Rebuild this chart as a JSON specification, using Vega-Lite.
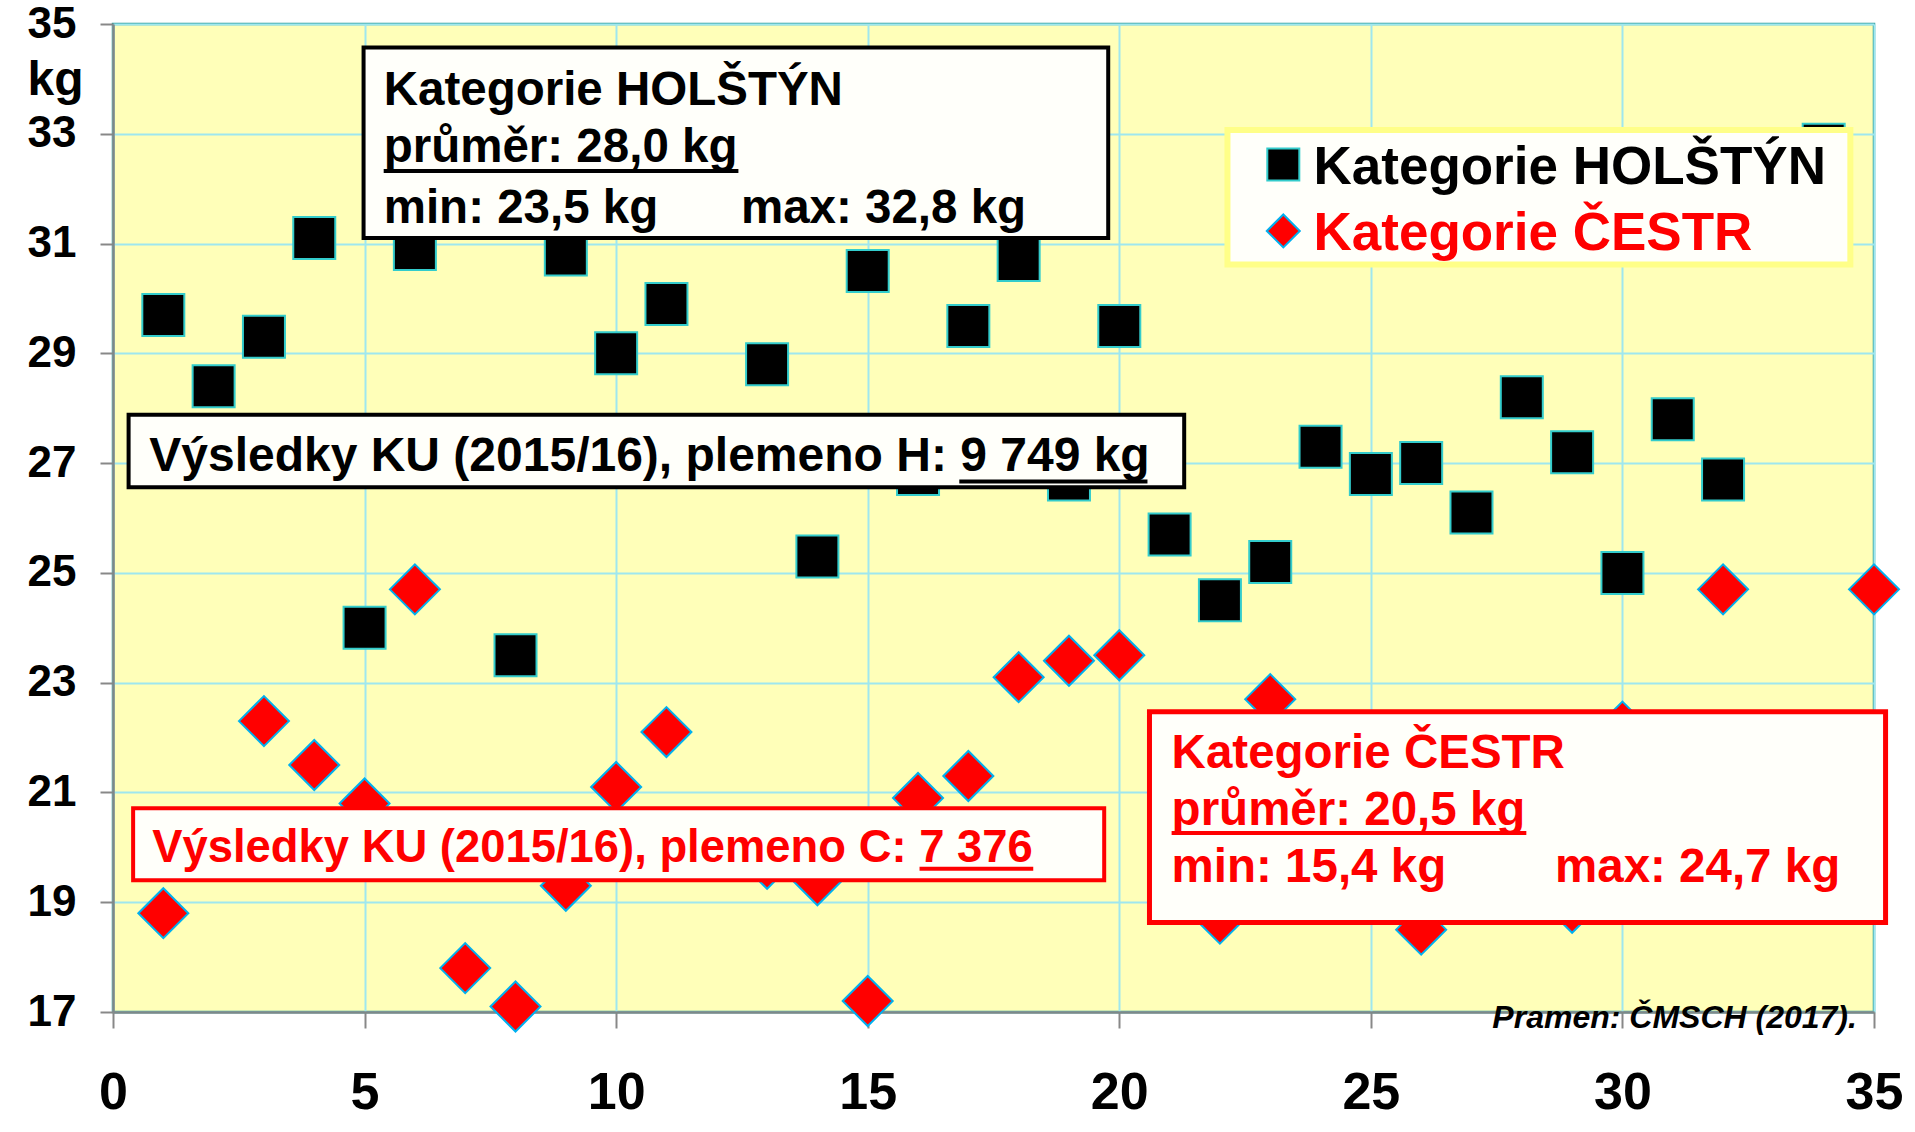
{
  "$schema": "https://vega.github.io/schema/vega-lite/v6.json",
  "width": 1761,
  "height": 988,
  "autosize": {"type": "none"},
  "padding": {"left": 113, "top": 24, "right": 41, "bottom": 120},
  "background": "#FFFFFF",
  "data": {"values": [{}]},
  "config": {
    "view": {"fill": "#FFFFB9", "stroke": "#2E9C9C", "strokeWidth": 2.5},
    "font": "Liberation Sans",
    "text": {"font": "Liberation Sans", "fontWeight": "bold", "align": "left", "baseline": "alphabetic"}
  },
  "datasets": {
    "holstyn": [
      {"n": 1, "kg": 29.7}, {"n": 2, "kg": 28.4}, {"n": 3, "kg": 29.3}, {"n": 4, "kg": 31.1},
      {"n": 5, "kg": 24.0}, {"n": 6, "kg": 30.9}, {"n": 7, "kg": 32.0}, {"n": 8, "kg": 23.5},
      {"n": 9, "kg": 30.8}, {"n": 10, "kg": 29.0}, {"n": 11, "kg": 29.9}, {"n": 12, "kg": 27.5},
      {"n": 13, "kg": 28.8}, {"n": 14, "kg": 25.3}, {"n": 15, "kg": 30.5}, {"n": 16, "kg": 26.8},
      {"n": 17, "kg": 29.5}, {"n": 18, "kg": 30.7}, {"n": 19, "kg": 26.7}, {"n": 20, "kg": 29.5},
      {"n": 21, "kg": 25.7}, {"n": 22, "kg": 24.5}, {"n": 23, "kg": 25.2}, {"n": 24, "kg": 27.3},
      {"n": 25, "kg": 26.8}, {"n": 26, "kg": 27.0}, {"n": 27, "kg": 26.1}, {"n": 28, "kg": 28.2},
      {"n": 29, "kg": 27.2}, {"n": 30, "kg": 25.0}, {"n": 31, "kg": 27.8}, {"n": 32, "kg": 26.7},
      {"n": 33, "kg": 31.9}, {"n": 34, "kg": 32.8}
    ],
    "cestr": [
      {"n": 1, "kg": 18.8}, {"n": 2, "kg": 20.0}, {"n": 3, "kg": 22.3}, {"n": 4, "kg": 21.5},
      {"n": 5, "kg": 20.8}, {"n": 6, "kg": 24.7}, {"n": 7, "kg": 17.8}, {"n": 8, "kg": 17.1},
      {"n": 9, "kg": 19.3}, {"n": 10, "kg": 21.1}, {"n": 11, "kg": 22.1}, {"n": 12, "kg": 20.0},
      {"n": 13, "kg": 19.7}, {"n": 14, "kg": 19.4}, {"n": 15, "kg": 17.2}, {"n": 16, "kg": 20.9},
      {"n": 17, "kg": 21.3}, {"n": 18, "kg": 23.1}, {"n": 19, "kg": 23.4}, {"n": 20, "kg": 23.5},
      {"n": 22, "kg": 18.7}, {"n": 23, "kg": 22.7}, {"n": 24, "kg": 20.5},
      {"n": 25, "kg": 21.0}, {"n": 26, "kg": 18.5}, {"n": 27, "kg": 20.0}, {"n": 28, "kg": 21.5},
      {"n": 29, "kg": 18.9}, {"n": 30, "kg": 22.2}, {"n": 31, "kg": 20.3}, {"n": 32, "kg": 24.7},
      {"n": 33, "kg": 20.8}, {"n": 34, "kg": 19.9}, {"n": 35, "kg": 24.7}
    ]
  },
  "layer": [
    {
      "data": {"name": "holstyn"},
      "mark": {"type": "point", "shape": "square", "filled": true, "fill": "#000000", "stroke": "#33CCCC", "strokeWidth": 2, "size": 1764, "opacity": 1},
      "encoding": {
        "x": {"field": "n", "type": "quantitative",
          "scale": {"domain": [0, 35], "nice": false, "zero": false},
          "axis": {"title": null, "values": [0, 5, 10, 15, 20, 25, 30, 35], "labelFont": "Liberation Sans", "labelFontSize": 52, "labelFontWeight": "bold", "labelColor": "#000000", "labelPadding": 39, "labelFlush": false, "labelOverlap": false, "tickSize": 16, "tickColor": "#888888", "tickWidth": 2, "domainColor": "#7F8888", "domainWidth": 2.5, "grid": true, "gridColor": "#9FE7EF", "gridWidth": 2}},
        "y": {"field": "kg", "type": "quantitative",
          "scale": {"domain": [17, 35], "nice": false, "zero": false},
          "axis": {"title": null, "values": [17, 19, 21, 23, 25, 27, 29, 31, 33, 35], "labelFont": "Liberation Sans", "labelFontSize": 44, "labelFontWeight": "bold", "labelColor": "#000000", "labelPadding": 24, "labelFlush": false, "labelOverlap": false, "tickSize": 13, "tickColor": "#888888", "tickWidth": 2, "domainColor": "#7F8888", "domainWidth": 2.5, "grid": true, "gridColor": "#9FE7EF", "gridWidth": 2}}
      }
    },
    {
      "data": {"name": "cestr"},
      "mark": {"type": "point", "shape": "diamond", "filled": true, "fill": "#FF0000", "stroke": "#00B0F0", "strokeWidth": 2, "size": 2500, "opacity": 1},
      "encoding": {
        "x": {"field": "n", "type": "quantitative", "scale": {"domain": [0, 35], "nice": false, "zero": false}},
        "y": {"field": "kg", "type": "quantitative", "scale": {"domain": [17, 35], "nice": false, "zero": false}}
      }
    },
    {
      "mark": {"type": "rect", "fill": "#FFFFFA", "stroke": "#000000", "strokeWidth": 4},
      "encoding": {"x": {"datum": 4.98}, "x2": {"datum": 19.78}, "y": {"datum": 34.57}, "y2": {"datum": 31.10}}
    },
    {
      "mark": {"type": "rect", "fill": "#FFFFFA", "stroke": "#000000", "strokeWidth": 4},
      "encoding": {"x": {"datum": 0.31}, "x2": {"datum": 21.29}, "y": {"datum": 27.88}, "y2": {"datum": 26.56}}
    },
    {
      "mark": {"type": "rect", "fill": "#FFFFFA", "stroke": "#FF0000", "strokeWidth": 4},
      "encoding": {"x": {"datum": 0.40}, "x2": {"datum": 19.70}, "y": {"datum": 20.71}, "y2": {"datum": 19.40}}
    },
    {
      "mark": {"type": "rect", "fill": "#FFFFFA", "stroke": "#FF0000", "strokeWidth": 5},
      "encoding": {"x": {"datum": 20.60}, "x2": {"datum": 35.23}, "y": {"datum": 22.47}, "y2": {"datum": 18.63}}
    },
    {
      "mark": {"type": "rect", "fill": "#FFFFFA", "stroke": "#FFFF88", "strokeWidth": 6},
      "encoding": {"x": {"datum": 22.15}, "x2": {"datum": 34.53}, "y": {"datum": 33.07}, "y2": {"datum": 30.62}}
    },
    {
      "mark": {"type": "point", "shape": "square", "filled": true, "fill": "#000000", "stroke": "#33CCCC", "strokeWidth": 2, "size": 1024, "opacity": 1},
      "encoding": {"x": {"datum": 23.26}, "y": {"datum": 32.44}}
    },
    {
      "mark": {"type": "point", "shape": "diamond", "filled": true, "fill": "#FF0000", "stroke": "#00B0F0", "strokeWidth": 2, "size": 1089, "opacity": 1},
      "encoding": {"x": {"datum": 23.26}, "y": {"datum": 31.23}}
    },
    {
      "mark": {"type": "text", "fontSize": 53, "color": "#000000", "text": "Kategorie HOLŠTÝN"},
      "encoding": {"x": {"datum": 23.86}, "y": {"datum": 32.09}}
    },
    {
      "mark": {"type": "text", "fontSize": 53, "color": "#FF0000", "text": "Kategorie ČESTR"},
      "encoding": {"x": {"datum": 23.86}, "y": {"datum": 30.89}}
    },
    {
      "mark": {"type": "text", "fontSize": 47.5, "color": "#000000", "text": "Kategorie HOLŠTÝN"},
      "encoding": {"x": {"datum": 5.38}, "y": {"datum": 33.52}}
    },
    {
      "mark": {"type": "text", "fontSize": 47.5, "color": "#000000", "text": "průměr: 28,0 kg"},
      "encoding": {"x": {"datum": 5.38}, "y": {"datum": 32.48}}
    },
    {
      "mark": {"type": "rule", "color": "#000000", "strokeWidth": 4},
      "encoding": {"x": {"datum": 5.38}, "x2": {"datum": 12.43}, "y": {"datum": 32.32}}
    },
    {
      "mark": {"type": "text", "fontSize": 47.5, "color": "#000000", "text": "min: 23,5 kg"},
      "encoding": {"x": {"datum": 5.38}, "y": {"datum": 31.38}}
    },
    {
      "mark": {"type": "text", "fontSize": 47.5, "color": "#000000", "text": "max: 32,8 kg"},
      "encoding": {"x": {"datum": 12.48}, "y": {"datum": 31.38}}
    },
    {
      "mark": {"type": "text", "fontSize": 48, "color": "#000000", "text": "Výsledky KU (2015/16), plemeno H: 9 749 kg"},
      "encoding": {"x": {"datum": 0.72}, "y": {"datum": 26.86}}
    },
    {
      "mark": {"type": "rule", "color": "#000000", "strokeWidth": 4},
      "encoding": {"x": {"datum": 16.82}, "x2": {"datum": 20.56}, "y": {"datum": 26.665}}
    },
    {
      "mark": {"type": "text", "fontSize": 45.4, "color": "#FF0000", "text": "Výsledky KU (2015/16), plemeno C: 7 376"},
      "encoding": {"x": {"datum": 0.78}, "y": {"datum": 19.74}}
    },
    {
      "mark": {"type": "rule", "color": "#FF0000", "strokeWidth": 4},
      "encoding": {"x": {"datum": 16.03}, "x2": {"datum": 18.29}, "y": {"datum": 19.61}}
    },
    {
      "mark": {"type": "text", "fontSize": 47.5, "color": "#FF0000", "text": "Kategorie ČESTR"},
      "encoding": {"x": {"datum": 21.04}, "y": {"datum": 21.44}}
    },
    {
      "mark": {"type": "text", "fontSize": 47.5, "color": "#FF0000", "text": "průměr: 20,5 kg"},
      "encoding": {"x": {"datum": 21.04}, "y": {"datum": 20.41}}
    },
    {
      "mark": {"type": "rule", "color": "#FF0000", "strokeWidth": 4},
      "encoding": {"x": {"datum": 21.04}, "x2": {"datum": 28.09}, "y": {"datum": 20.26}}
    },
    {
      "mark": {"type": "text", "fontSize": 47.5, "color": "#FF0000", "text": "min: 15,4 kg"},
      "encoding": {"x": {"datum": 21.04}, "y": {"datum": 19.36}}
    },
    {
      "mark": {"type": "text", "fontSize": 47.5, "color": "#FF0000", "text": "max: 24,7 kg"},
      "encoding": {"x": {"datum": 28.66}, "y": {"datum": 19.36}}
    },
    {
      "mark": {"type": "text", "fontSize": 48, "color": "#000000", "text": "kg"},
      "encoding": {"x": {"datum": -1.70}, "y": {"datum": 33.71}}
    },
    {
      "mark": {"type": "text", "fontSize": 32, "fontStyle": "italic", "align": "right", "color": "#000000", "text": "Pramen: ČMSCH (2017)."},
      "encoding": {"x": {"datum": 34.66}, "y": {"datum": 16.71}}
    }
  ]
}
